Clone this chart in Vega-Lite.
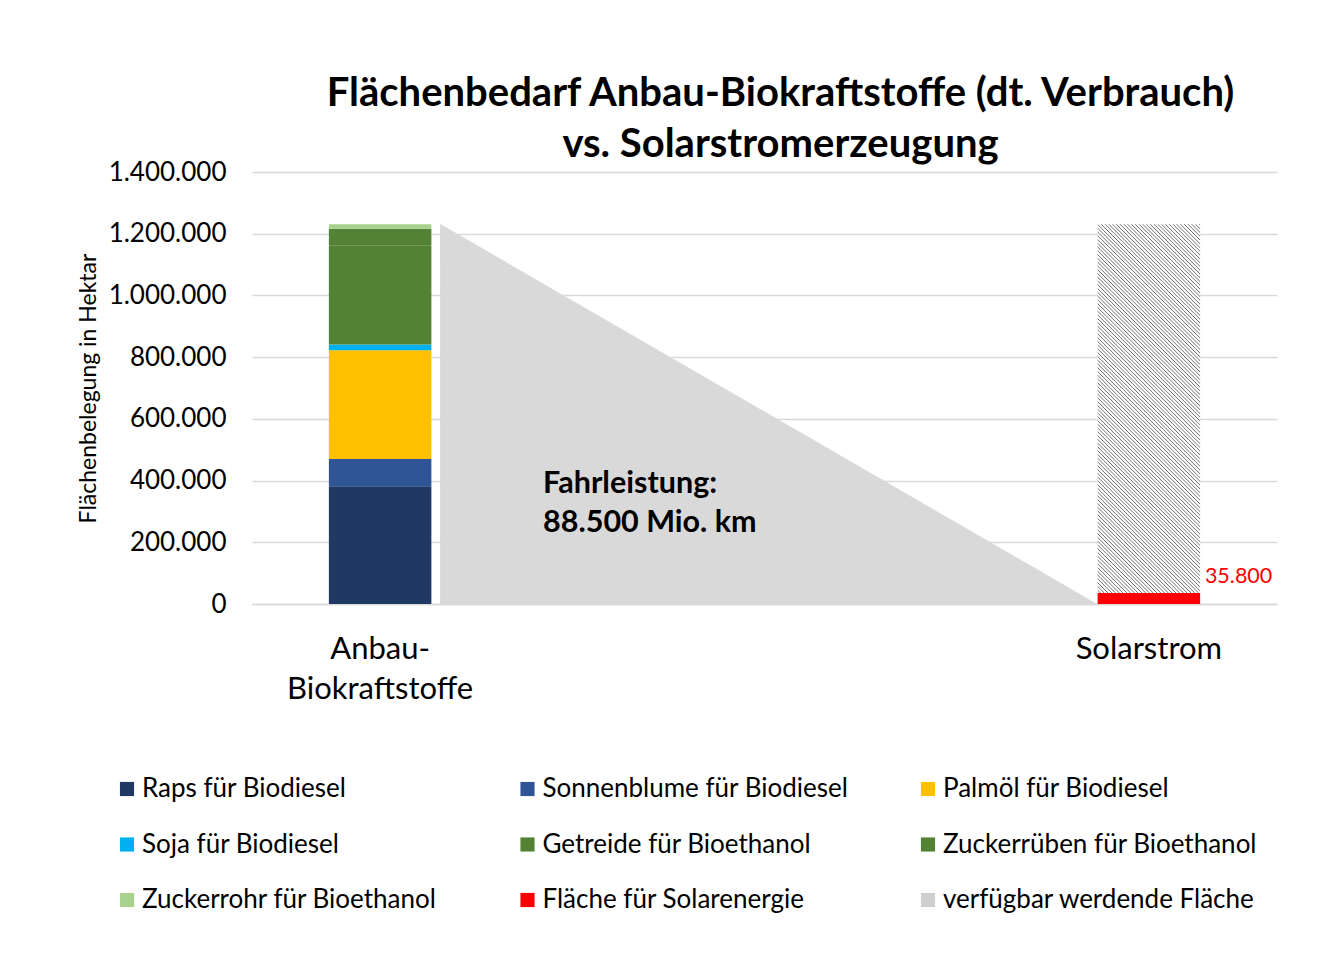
{
  "$schema": "https://vega.github.io/schema/vega-lite/v6.json",
  "width": 1025,
  "height": 432,
  "autosize": {"type": "none"},
  "padding": {"left": 252, "top": 172, "right": 48, "bottom": 374},
  "background": "white",
  "config": {
    "locale": {"number": {"decimal": ",", "thousands": ".", "grouping": [3], "currency": ["", " €"]}},
    "font": "Lato",
    "view": {"stroke": null},
    "axis": {"labelFont": "Lato", "titleFont": "Lato", "labelColor": "#000", "titleColor": "#000"},
    "text": {"font": "Lato"}
  },
  "title": {
    "text": ["Flächenbedarf Anbau-Biokraftstoffe (dt. Verbrauch)", "vs. Solarstromerzeugung"],
    "anchor": "middle",
    "font": "Lato",
    "fontSize": 40,
    "fontWeight": "bold",
    "color": "#000",
    "lineHeight": 51,
    "dx": 16,
    "offset": -6
  },
  "datasets": {
    "main": [
      {"cat": "Anbau-Biokraftstoffe", "series": "Raps für Biodiesel", "value": 382000, "order": 1},
      {"cat": "Anbau-Biokraftstoffe", "series": "Sonnenblume für Biodiesel", "value": 88000, "order": 2},
      {"cat": "Anbau-Biokraftstoffe", "series": "Palmöl für Biodiesel", "value": 352000, "order": 3},
      {"cat": "Anbau-Biokraftstoffe", "series": "Soja für Biodiesel", "value": 19000, "order": 4},
      {"cat": "Anbau-Biokraftstoffe", "series": "Getreide für Bioethanol", "value": 320000, "order": 5},
      {"cat": "Anbau-Biokraftstoffe", "series": "Zuckerrüben für Bioethanol", "value": 55000, "order": 6},
      {"cat": "Anbau-Biokraftstoffe", "series": "Zuckerrohr für Bioethanol", "value": 15000, "order": 7},
      {"cat": "Solarstrom", "series": "Fläche für Solarenergie", "value": 35800, "order": 8},
      {"cat": "Solarstrom", "series": "verfügbar werdende Fläche", "value": 1195200, "order": 9}
    ],
    "triangle": [
      {"p": 0.734, "value": 1232000},
      {"p": 3.298, "value": 0}
    ],
    "note": [
      {"p": 1.136, "value": 389000}
    ]
  },
  "layer": [
    {
      "data": {"name": "triangle"},
      "mark": {"type": "area", "color": "#D9D9D9", "interpolate": "linear"},
      "encoding": {
        "x": {"field": "p", "type": "quantitative", "scale": {"domain": [0, 4], "nice": false, "zero": false}, "axis": null},
        "y": {"field": "value", "type": "quantitative", "scale": {"domain": [0, 1400000], "nice": false},
          "axis": {"title": "Flächenbelegung in Hektar", "titleFontSize": 23, "titleFontWeight": "normal", "titlePadding": 8, "labelFontSize": 26, "labelPadding": 26, "ticks": false, "domain": false, "grid": true, "gridColor": "#D9D9D9", "gridWidth": 1.5, "values": [0, 200000, 400000, 600000, 800000, 1000000, 1200000, 1400000], "format": ",d"}}
      }
    },
    {
      "data": {"name": "note"},
      "mark": {"type": "text", "text": ["Fahrleistung:", "88.500 Mio. km"], "align": "left", "baseline": "middle", "fontSize": 30.5, "fontWeight": "bold", "lineHeight": 39, "color": "#000", "font": "Lato"},
      "encoding": {
        "x": {"field": "p", "type": "quantitative", "scale": {"domain": [0, 4], "nice": false, "zero": false}, "axis": null},
        "y": {"field": "value", "type": "quantitative", "scale": {"domain": [0, 1400000], "nice": false},
          "axis": {"title": "Flächenbelegung in Hektar", "titleFontSize": 23, "titleFontWeight": "normal", "titlePadding": 8, "labelFontSize": 26, "labelPadding": 26, "ticks": false, "domain": false, "grid": true, "gridColor": "#D9D9D9", "gridWidth": 1.5, "values": [0, 200000, 400000, 600000, 800000, 1000000, 1200000, 1400000], "format": ",d"}}
      }
    },
    {
      "data": {"name": "main"},
      "mark": {"type": "bar"},
      "encoding": {
        "x": {"field": "cat", "type": "nominal", "sort": null,
          "scale": {"domain": ["Anbau-Biokraftstoffe", "m1", "m2", "Solarstrom"], "paddingInner": 0.6, "paddingOuter": 0.3},
          "axis": {"title": null, "labelExpr": "datum.value == 'Anbau-Biokraftstoffe' ? ['Anbau-', 'Biokraftstoffe'] : (datum.value == 'Solarstrom' ? 'Solarstrom' : '')", "labelFontSize": 31, "labelAngle": 0, "labelLimit": 600, "ticks": false, "domainColor": "#D9D9D9", "domainWidth": 1.5, "labelPadding": 30, "labelLineHeight": 40, "labelBaseline": "top", "grid": false}},
        "y": {"field": "value", "type": "quantitative", "stack": "zero", "scale": {"domain": [0, 1400000], "nice": false},
          "axis": {"title": "Flächenbelegung in Hektar", "titleFontSize": 23, "titleFontWeight": "normal", "titlePadding": 8, "labelFontSize": 26, "labelPadding": 26, "ticks": false, "domain": false, "grid": true, "gridColor": "#D9D9D9", "gridWidth": 1.5, "values": [0, 200000, 400000, 600000, 800000, 1000000, 1200000, 1400000], "format": ",d"}},
        "order": {"field": "order", "type": "quantitative"},
        "color": {
          "field": "series", "type": "nominal",
          "condition": {"test": "datum.series === 'verfügbar werdende Fläche'", "value": {"gradient": "linear", "x1": 0, "y1": 1, "x2": 0.3297, "y2": -0.1863, "stops": [
            {"offset":0,"color":"#fff"},{"offset":0.004,"color":"#fff"},{"offset":0.006,"color":"#666"},
            {"offset":0.008,"color":"#fff"},{"offset":0.012,"color":"#fff"},{"offset":0.014,"color":"#666"},
            {"offset":0.016,"color":"#fff"},{"offset":0.02,"color":"#fff"},{"offset":0.022,"color":"#666"},
            {"offset":0.024,"color":"#fff"},{"offset":0.028,"color":"#fff"},{"offset":0.03,"color":"#666"},
            {"offset":0.032,"color":"#fff"},{"offset":0.036,"color":"#fff"},{"offset":0.038,"color":"#666"},
            {"offset":0.04,"color":"#fff"},{"offset":0.044,"color":"#fff"},{"offset":0.046,"color":"#666"},
            {"offset":0.048,"color":"#fff"},{"offset":0.052,"color":"#fff"},{"offset":0.054,"color":"#666"},
            {"offset":0.056,"color":"#fff"},{"offset":0.06,"color":"#fff"},{"offset":0.062,"color":"#666"},
            {"offset":0.064,"color":"#fff"},{"offset":0.068,"color":"#fff"},{"offset":0.07,"color":"#666"},
            {"offset":0.072,"color":"#fff"},{"offset":0.076,"color":"#fff"},{"offset":0.078,"color":"#666"},
            {"offset":0.08,"color":"#fff"},{"offset":0.084,"color":"#fff"},{"offset":0.086,"color":"#666"},
            {"offset":0.088,"color":"#fff"},{"offset":0.092,"color":"#fff"},{"offset":0.094,"color":"#666"},
            {"offset":0.096,"color":"#fff"},{"offset":0.1,"color":"#fff"},{"offset":0.102,"color":"#666"},
            {"offset":0.104,"color":"#fff"},{"offset":0.108,"color":"#fff"},{"offset":0.11,"color":"#666"},
            {"offset":0.112,"color":"#fff"},{"offset":0.116,"color":"#fff"},{"offset":0.118,"color":"#666"},
            {"offset":0.12,"color":"#fff"},{"offset":0.124,"color":"#fff"},{"offset":0.126,"color":"#666"},
            {"offset":0.128,"color":"#fff"},{"offset":0.132,"color":"#fff"},{"offset":0.134,"color":"#666"},
            {"offset":0.136,"color":"#fff"},{"offset":0.14,"color":"#fff"},{"offset":0.142,"color":"#666"},
            {"offset":0.144,"color":"#fff"},{"offset":0.148,"color":"#fff"},{"offset":0.15,"color":"#666"},
            {"offset":0.152,"color":"#fff"},{"offset":0.156,"color":"#fff"},{"offset":0.158,"color":"#666"},
            {"offset":0.16,"color":"#fff"},{"offset":0.164,"color":"#fff"},{"offset":0.166,"color":"#666"},
            {"offset":0.168,"color":"#fff"},{"offset":0.172,"color":"#fff"},{"offset":0.174,"color":"#666"},
            {"offset":0.176,"color":"#fff"},{"offset":0.18,"color":"#fff"},{"offset":0.182,"color":"#666"},
            {"offset":0.184,"color":"#fff"},{"offset":0.188,"color":"#fff"},{"offset":0.19,"color":"#666"},
            {"offset":0.192,"color":"#fff"},{"offset":0.196,"color":"#fff"},{"offset":0.198,"color":"#666"},
            {"offset":0.2,"color":"#fff"},{"offset":0.204,"color":"#fff"},{"offset":0.206,"color":"#666"},
            {"offset":0.208,"color":"#fff"},{"offset":0.212,"color":"#fff"},{"offset":0.214,"color":"#666"},
            {"offset":0.216,"color":"#fff"},{"offset":0.22,"color":"#fff"},{"offset":0.222,"color":"#666"},
            {"offset":0.224,"color":"#fff"},{"offset":0.228,"color":"#fff"},{"offset":0.23,"color":"#666"},
            {"offset":0.232,"color":"#fff"},{"offset":0.236,"color":"#fff"},{"offset":0.238,"color":"#666"},
            {"offset":0.24,"color":"#fff"},{"offset":0.244,"color":"#fff"},{"offset":0.246,"color":"#666"},
            {"offset":0.248,"color":"#fff"},{"offset":0.252,"color":"#fff"},{"offset":0.254,"color":"#666"},
            {"offset":0.256,"color":"#fff"},{"offset":0.26,"color":"#fff"},{"offset":0.262,"color":"#666"},
            {"offset":0.264,"color":"#fff"},{"offset":0.268,"color":"#fff"},{"offset":0.27,"color":"#666"},
            {"offset":0.272,"color":"#fff"},{"offset":0.276,"color":"#fff"},{"offset":0.278,"color":"#666"},
            {"offset":0.28,"color":"#fff"},{"offset":0.284,"color":"#fff"},{"offset":0.286,"color":"#666"},
            {"offset":0.288,"color":"#fff"},{"offset":0.292,"color":"#fff"},{"offset":0.294,"color":"#666"},
            {"offset":0.296,"color":"#fff"},{"offset":0.3,"color":"#fff"},{"offset":0.302,"color":"#666"},
            {"offset":0.304,"color":"#fff"},{"offset":0.308,"color":"#fff"},{"offset":0.31,"color":"#666"},
            {"offset":0.312,"color":"#fff"},{"offset":0.316,"color":"#fff"},{"offset":0.318,"color":"#666"},
            {"offset":0.32,"color":"#fff"},{"offset":0.324,"color":"#fff"},{"offset":0.326,"color":"#666"},
            {"offset":0.328,"color":"#fff"},{"offset":0.332,"color":"#fff"},{"offset":0.334,"color":"#666"},
            {"offset":0.336,"color":"#fff"},{"offset":0.34,"color":"#fff"},{"offset":0.342,"color":"#666"},
            {"offset":0.344,"color":"#fff"},{"offset":0.348,"color":"#fff"},{"offset":0.35,"color":"#666"},
            {"offset":0.352,"color":"#fff"},{"offset":0.356,"color":"#fff"},{"offset":0.358,"color":"#666"},
            {"offset":0.36,"color":"#fff"},{"offset":0.364,"color":"#fff"},{"offset":0.366,"color":"#666"},
            {"offset":0.368,"color":"#fff"},{"offset":0.372,"color":"#fff"},{"offset":0.374,"color":"#666"},
            {"offset":0.376,"color":"#fff"},{"offset":0.38,"color":"#fff"},{"offset":0.382,"color":"#666"},
            {"offset":0.384,"color":"#fff"},{"offset":0.388,"color":"#fff"},{"offset":0.39,"color":"#666"},
            {"offset":0.392,"color":"#fff"},{"offset":0.396,"color":"#fff"},{"offset":0.398,"color":"#666"},
            {"offset":0.4,"color":"#fff"},{"offset":0.404,"color":"#fff"},{"offset":0.406,"color":"#666"},
            {"offset":0.408,"color":"#fff"},{"offset":0.412,"color":"#fff"},{"offset":0.414,"color":"#666"},
            {"offset":0.416,"color":"#fff"},{"offset":0.42,"color":"#fff"},{"offset":0.422,"color":"#666"},
            {"offset":0.424,"color":"#fff"},{"offset":0.428,"color":"#fff"},{"offset":0.43,"color":"#666"},
            {"offset":0.432,"color":"#fff"},{"offset":0.436,"color":"#fff"},{"offset":0.438,"color":"#666"},
            {"offset":0.44,"color":"#fff"},{"offset":0.444,"color":"#fff"},{"offset":0.446,"color":"#666"},
            {"offset":0.448,"color":"#fff"},{"offset":0.452,"color":"#fff"},{"offset":0.454,"color":"#666"},
            {"offset":0.456,"color":"#fff"},{"offset":0.46,"color":"#fff"},{"offset":0.462,"color":"#666"},
            {"offset":0.464,"color":"#fff"},{"offset":0.468,"color":"#fff"},{"offset":0.47,"color":"#666"},
            {"offset":0.472,"color":"#fff"},{"offset":0.476,"color":"#fff"},{"offset":0.478,"color":"#666"},
            {"offset":0.48,"color":"#fff"},{"offset":0.484,"color":"#fff"},{"offset":0.486,"color":"#666"},
            {"offset":0.488,"color":"#fff"},{"offset":0.492,"color":"#fff"},{"offset":0.494,"color":"#666"},
            {"offset":0.496,"color":"#fff"},{"offset":0.5,"color":"#fff"},{"offset":0.502,"color":"#666"},
            {"offset":0.504,"color":"#fff"},{"offset":0.508,"color":"#fff"},{"offset":0.51,"color":"#666"},
            {"offset":0.512,"color":"#fff"},{"offset":0.516,"color":"#fff"},{"offset":0.518,"color":"#666"},
            {"offset":0.52,"color":"#fff"},{"offset":0.524,"color":"#fff"},{"offset":0.526,"color":"#666"},
            {"offset":0.528,"color":"#fff"},{"offset":0.532,"color":"#fff"},{"offset":0.534,"color":"#666"},
            {"offset":0.536,"color":"#fff"},{"offset":0.54,"color":"#fff"},{"offset":0.542,"color":"#666"},
            {"offset":0.544,"color":"#fff"},{"offset":0.548,"color":"#fff"},{"offset":0.55,"color":"#666"},
            {"offset":0.552,"color":"#fff"},{"offset":0.556,"color":"#fff"},{"offset":0.558,"color":"#666"},
            {"offset":0.56,"color":"#fff"},{"offset":0.564,"color":"#fff"},{"offset":0.566,"color":"#666"},
            {"offset":0.568,"color":"#fff"},{"offset":0.572,"color":"#fff"},{"offset":0.574,"color":"#666"},
            {"offset":0.576,"color":"#fff"},{"offset":0.58,"color":"#fff"},{"offset":0.582,"color":"#666"},
            {"offset":0.584,"color":"#fff"},{"offset":0.588,"color":"#fff"},{"offset":0.59,"color":"#666"},
            {"offset":0.592,"color":"#fff"},{"offset":0.596,"color":"#fff"},{"offset":0.598,"color":"#666"},
            {"offset":0.6,"color":"#fff"},{"offset":0.604,"color":"#fff"},{"offset":0.606,"color":"#666"},
            {"offset":0.608,"color":"#fff"},{"offset":0.612,"color":"#fff"},{"offset":0.614,"color":"#666"},
            {"offset":0.616,"color":"#fff"},{"offset":0.62,"color":"#fff"},{"offset":0.622,"color":"#666"},
            {"offset":0.624,"color":"#fff"},{"offset":0.628,"color":"#fff"},{"offset":0.63,"color":"#666"},
            {"offset":0.632,"color":"#fff"},{"offset":0.636,"color":"#fff"},{"offset":0.638,"color":"#666"},
            {"offset":0.64,"color":"#fff"},{"offset":0.644,"color":"#fff"},{"offset":0.646,"color":"#666"},
            {"offset":0.648,"color":"#fff"},{"offset":0.652,"color":"#fff"},{"offset":0.654,"color":"#666"},
            {"offset":0.656,"color":"#fff"},{"offset":0.66,"color":"#fff"},{"offset":0.662,"color":"#666"},
            {"offset":0.664,"color":"#fff"},{"offset":0.668,"color":"#fff"},{"offset":0.67,"color":"#666"},
            {"offset":0.672,"color":"#fff"},{"offset":0.676,"color":"#fff"},{"offset":0.678,"color":"#666"},
            {"offset":0.68,"color":"#fff"},{"offset":0.684,"color":"#fff"},{"offset":0.686,"color":"#666"},
            {"offset":0.688,"color":"#fff"},{"offset":0.692,"color":"#fff"},{"offset":0.694,"color":"#666"},
            {"offset":0.696,"color":"#fff"},{"offset":0.7,"color":"#fff"},{"offset":0.702,"color":"#666"},
            {"offset":0.704,"color":"#fff"},{"offset":0.708,"color":"#fff"},{"offset":0.71,"color":"#666"},
            {"offset":0.712,"color":"#fff"},{"offset":0.716,"color":"#fff"},{"offset":0.718,"color":"#666"},
            {"offset":0.72,"color":"#fff"},{"offset":0.724,"color":"#fff"},{"offset":0.726,"color":"#666"},
            {"offset":0.728,"color":"#fff"},{"offset":0.732,"color":"#fff"},{"offset":0.734,"color":"#666"},
            {"offset":0.736,"color":"#fff"},{"offset":0.74,"color":"#fff"},{"offset":0.742,"color":"#666"},
            {"offset":0.744,"color":"#fff"},{"offset":0.748,"color":"#fff"},{"offset":0.75,"color":"#666"},
            {"offset":0.752,"color":"#fff"},{"offset":0.756,"color":"#fff"},{"offset":0.758,"color":"#666"},
            {"offset":0.76,"color":"#fff"},{"offset":0.764,"color":"#fff"},{"offset":0.766,"color":"#666"},
            {"offset":0.768,"color":"#fff"},{"offset":0.772,"color":"#fff"},{"offset":0.774,"color":"#666"},
            {"offset":0.776,"color":"#fff"},{"offset":0.78,"color":"#fff"},{"offset":0.782,"color":"#666"},
            {"offset":0.784,"color":"#fff"},{"offset":0.788,"color":"#fff"},{"offset":0.79,"color":"#666"},
            {"offset":0.792,"color":"#fff"},{"offset":0.796,"color":"#fff"},{"offset":0.798,"color":"#666"},
            {"offset":0.8,"color":"#fff"},{"offset":0.804,"color":"#fff"},{"offset":0.806,"color":"#666"},
            {"offset":0.808,"color":"#fff"},{"offset":0.812,"color":"#fff"},{"offset":0.814,"color":"#666"},
            {"offset":0.816,"color":"#fff"},{"offset":0.82,"color":"#fff"},{"offset":0.822,"color":"#666"},
            {"offset":0.824,"color":"#fff"},{"offset":0.828,"color":"#fff"},{"offset":0.83,"color":"#666"},
            {"offset":0.832,"color":"#fff"},{"offset":0.836,"color":"#fff"},{"offset":0.838,"color":"#666"},
            {"offset":0.84,"color":"#fff"},{"offset":0.844,"color":"#fff"},{"offset":0.846,"color":"#666"},
            {"offset":0.848,"color":"#fff"},{"offset":0.852,"color":"#fff"},{"offset":0.854,"color":"#666"},
            {"offset":0.856,"color":"#fff"},{"offset":0.86,"color":"#fff"},{"offset":0.862,"color":"#666"},
            {"offset":0.864,"color":"#fff"},{"offset":0.868,"color":"#fff"},{"offset":0.87,"color":"#666"},
            {"offset":0.872,"color":"#fff"},{"offset":0.876,"color":"#fff"},{"offset":0.878,"color":"#666"},
            {"offset":0.88,"color":"#fff"},{"offset":0.884,"color":"#fff"},{"offset":0.886,"color":"#666"},
            {"offset":0.888,"color":"#fff"},{"offset":0.892,"color":"#fff"},{"offset":0.894,"color":"#666"},
            {"offset":0.896,"color":"#fff"},{"offset":0.9,"color":"#fff"},{"offset":0.902,"color":"#666"},
            {"offset":0.904,"color":"#fff"},{"offset":0.908,"color":"#fff"},{"offset":0.91,"color":"#666"},
            {"offset":0.912,"color":"#fff"},{"offset":0.916,"color":"#fff"},{"offset":0.918,"color":"#666"},
            {"offset":0.92,"color":"#fff"},{"offset":0.924,"color":"#fff"},{"offset":0.926,"color":"#666"},
            {"offset":0.928,"color":"#fff"},{"offset":0.932,"color":"#fff"},{"offset":0.934,"color":"#666"},
            {"offset":0.936,"color":"#fff"},{"offset":0.94,"color":"#fff"},{"offset":0.942,"color":"#666"},
            {"offset":0.944,"color":"#fff"},{"offset":0.948,"color":"#fff"},{"offset":0.95,"color":"#666"},
            {"offset":0.952,"color":"#fff"},{"offset":0.956,"color":"#fff"},{"offset":0.958,"color":"#666"},
            {"offset":0.96,"color":"#fff"},{"offset":0.964,"color":"#fff"},{"offset":0.966,"color":"#666"},
            {"offset":0.968,"color":"#fff"},{"offset":0.972,"color":"#fff"},{"offset":0.974,"color":"#666"},
            {"offset":0.976,"color":"#fff"},{"offset":0.98,"color":"#fff"},{"offset":0.982,"color":"#666"},
            {"offset":0.984,"color":"#fff"},{"offset":0.988,"color":"#fff"},{"offset":0.99,"color":"#666"},
            {"offset":0.992,"color":"#fff"},{"offset":0.996,"color":"#fff"},{"offset":0.998,"color":"#666"},
            {"offset":1,"color":"#fff"}
          ]}},
          "scale": {
            "domain": ["Raps für Biodiesel", "Sonnenblume für Biodiesel", "Palmöl für Biodiesel", "Soja für Biodiesel", "Getreide für Bioethanol", "Zuckerrüben für Bioethanol", "Zuckerrohr für Bioethanol", "Fläche für Solarenergie", "verfügbar werdende Fläche"],
            "range": ["#203864", "#2F5597", "#FFC000", "#00B0F0", "#548235", "#548235", "#A9D18E", "#FF0000", "#CFCFCF"]
          },
          "legend": {
            "title": null,
            "orient": "none",
            "legendX": -138,
            "legendY": 604,
            "direction": "horizontal",
            "columns": 3,
            "symbolType": "square",
            "symbolSize": 200,
            "symbolStrokeWidth": 0,
            "labelFont": "Lato",
            "labelFontSize": 26,
            "labelColor": "#000",
            "labelOffset": 2,
            "labelLimit": 600,
            "rowPadding": 29.5,
            "columnPadding": 57.5,
            "gridAlign": "all",
            "padding": 0
          }
        }
      }
    },
    {
      "data": {"name": "main"},
      "transform": [{"filter": "datum.series === 'Fläche für Solarenergie'"}],
      "mark": {"type": "text", "color": "#FF0000", "align": "left", "baseline": "middle", "dx": 56, "dy": -16, "fontSize": 21.5, "font": "Lato"},
      "encoding": {
        "x": {"field": "cat", "type": "nominal", "sort": null,
          "scale": {"domain": ["Anbau-Biokraftstoffe", "m1", "m2", "Solarstrom"], "paddingInner": 0.6, "paddingOuter": 0.3}, "axis": null},
        "y": {"field": "value", "type": "quantitative", "stack": null, "scale": {"domain": [0, 1400000], "nice": false},
          "axis": {"title": "Flächenbelegung in Hektar", "titleFontSize": 23, "titleFontWeight": "normal", "titlePadding": 8, "labelFontSize": 26, "labelPadding": 26, "ticks": false, "domain": false, "grid": true, "gridColor": "#D9D9D9", "gridWidth": 1.5, "values": [0, 200000, 400000, 600000, 800000, 1000000, 1200000, 1400000], "format": ",d"}},
        "text": {"field": "value", "type": "quantitative", "format": ",d"}
      }
    }
  ],
  "resolve": {"scale": {"x": "independent"}, "axis": {"x": "independent"}}
}
